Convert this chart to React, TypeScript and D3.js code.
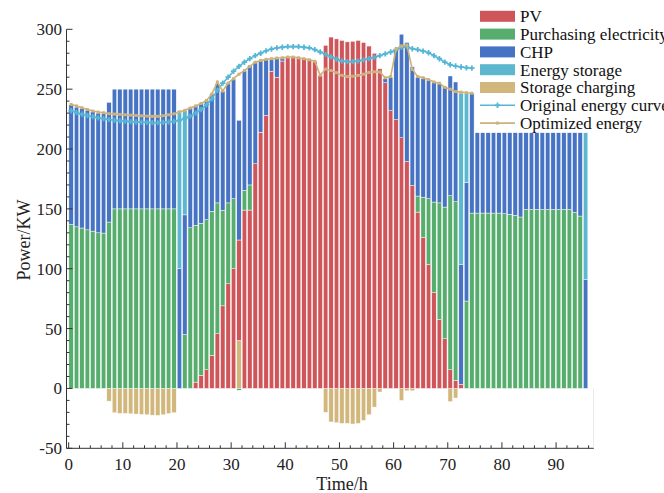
import React from "react";
import * as d3 from "d3";

const W = 664;
const H = 493;

// 96 time steps
const pv = [
  0,0,0,0,0,0,0,0,0,0,
  0,0,0,0,0,0,0,0,0,0,
  0,0,0,5.3,10.9,15.6,27.6,45.7,69,87.4,
  100,84,149,149,187.7,214,228,265,260,273.5,
  276.5,276.8,276.5,275.5,274.5,273.3,261.5,286.6,293.5,292,
  290.7,289.5,290,290.7,289,286,280,267,255.4,232,
  224.5,209.4,189.6,169.6,147.3,126,103.6,80,57.6,41.5,
  15.6,6.7,3.3,0,0,0,0,0,0,0,
  0,0,0,0,0,0,0,0,0,0,
  0,0,0,0,0,0,
];
const purchasing = [
  137,135,134,132.5,131.4,130,129.8,139,150,150,
  150,150,150,150,150,150,150,150,150,150,
  0,45,134.2,131,127,125.4,120.4,109.3,79.7,67.6,
  58.5,-1.5,16.5,21,0,0,0,0,0,0,
  0,0,0,0,0,0,0,0,0,0,
  0,0,0,0,0,0,0,0,0,0,
  0,0,0,0,13.4,33.8,55,75.7,97.4,110,
  145.4,149.3,0,73,146.5,146.5,146.5,146.5,146.5,146.5,
  146,145.5,144.6,143.2,149.5,149.5,149.5,149.5,149.5,149.5,
  149.5,149.5,149.5,147,144,0,
];
const chp = [
  100,100,100,100,100,100,100,100,100,100,
  100,100,100,100,100,100,100,100,100,100,
  100,100,100.5,100,100.4,99.6,98,99.5,99.7,100,
  100,100,100,100,85,60,46.5,10,15.5,2.5,
  0,0,0,0,0,0,0,0,0,0,
  0,0,0,0,0,0,0,0,3.5,28,
  59,86.5,99.4,99,99.3,99,99,100,99.5,100.5,
  100,100,100,99,100,67.1,67.1,67.1,67.1,67.1,
  67.6,68.1,69,70.4,64.1,64.1,64.1,64.1,64.1,64.1,
  64.1,64.1,64.1,66.6,69.6,90.8,
];
const storage = [
  0,0,0,0,0,0,0,0,0,0,
  0,0,0,0,0,0,0,0,0,0,
  132,87,0,0,0,0,0,0,0,0,
  0,0,0,0,0,0,0,0,0,0,
  0,0,0,0,0,0,0,0,0,0,
  0,0,0,0,0,0,0,0,0,0,
  0,0,0,0,0,0,0,0,0,0,
  0,0,143.4,74.7,0,0,0,0,0,0,
  0,0,0,0,0,0,0,0,0,0,
  0,0,0,0,0,122.8,
];
const charging = [
  0,0,0,0,0,0,0,-10.6,-20.3,-20.9,
  -20.9,-21.2,-21.4,-21.7,-22,-22.3,-22.5,-22,-21,-20.3,
  0,0,0,0,0,0,0,0,0,0,
  0,40,0,0,0,0,0,0,0,0,
  0,0,0,0,0,0,0,-20,-28,-28.6,
  -29.2,-29.2,-29.7,-29.2,-26.7,-22,-15.6,-3,0,0,
  0,-10,-2,-2,0,0,0,0,0,0,
  -11,-8,0,0,0,0,0,0,0,0,
  0,0,0,0,0,0,0,0,0,0,
  0,0,0,0,0,0,
];

// 75 points for the curves
const originalCurve = [
  232,230.5,229,228,227,226,225.3,224.6,224,223.6,
  223.2,222.9,222.6,222.4,222.2,222,222,222.2,222.6,223,
  224,225.5,227.5,230,233,237,242,249,255,260,
  265,269,272.5,275.5,278,280,282,283.5,284.5,285,
  285.5,285.5,285.5,285,284.5,283,281,279,277,275,
  273.5,273,273,273.5,274.5,275.5,276.5,278,279.5,281,
  283,285,285.5,283.8,283,281.8,280.4,278,275.4,272.6,
  270.4,269.3,268.5,267.9,267.6,
];
const optimizedCurve = [
  237.3,236,234.5,233,231.7,230.9,230.3,229.5,229.2,228.9,
  228.6,228.3,228,227.7,227.5,227.3,227.3,227.8,228.6,229.4,
  231,232.3,234.2,236,238,240.6,246,256,248.4,255,
  258.7,262.5,265.5,269,272.5,274,274.9,275.4,276,276.2,
  276.8,276.8,276.2,275.4,274.5,273.3,261.5,266.8,265.5,263.8,
  261.5,260.5,260.8,261.5,262.5,264,264.5,264.3,259.5,260.5,
  283.5,286,287,266.5,260.5,259.5,258,256,255,251.5,
  250,248,247.5,247,246.6,
];

const xTicks = [0, 10, 20, 30, 40, 50, 60, 70, 80, 90];
const yTicks = [-50, 0, 50, 100, 150, 200, 250, 300];

const seriesNames = ["PV", "Purchasing electricity", "CHP", "Energy storage", "Storage charging"];
const lineNames = ["Original energy curve", "Optimized energy"];

const COLORS: Record<string, string> = {
  pv: "#CE5559",
  grid: "#57AD6D",
  chp: "#4673C3",
  storage: "#5CB7CF",
  charge: "#D2B77D",
};
const CYAN_LINE = "#55B6D6";
const TAN_LINE = "#CDB27A";

const FONT = "'Liberation Serif', 'Times New Roman', serif";

export default function App() {
  const x = d3.scaleLinear().domain([-0.4, 97]).range([66.5, 594]);
  const y = d3.scaleLinear().domain([-50, 300]).range([448.3, 29.3]);

  const rows = pv.map((_, i) => ({
    i,
    charge: charging[i],
    pv: pv[i],
    grid: purchasing[i],
    chp: chp[i],
    storage: storage[i],
  }));
  const keys = ["charge", "pv", "grid", "chp", "storage"];
  const stacked = d3
    .stack<any>()
    .keys(keys)
    .offset(d3.stackOffsetDiverging)(rows);

  const barW = x(0.82) - x(0);
  const cx = (i: number) => x(i + 0.45);

  const lineGen = d3
    .line<number>()
    .x((_, i) => cx(i))
    .y((d) => y(d));

  const cross = d3.symbol().type(d3.symbolCross).size(16)();
  const square = d3.symbol().type(d3.symbolSquare).size(9)();

  const minorY = d3.range(-50, 301, 10);
  const minorX = d3.range(0, 97, 2);

  const legendX = 480;
  const legendY0 = 16.3;
  const legendStep = 17.8;
  const swatchW = 35;

  const legendItems: { label: string; kind: string; key?: string }[] = [
    { label: seriesNames[0], kind: "rect", key: "pv" },
    { label: seriesNames[1], kind: "rect", key: "grid" },
    { label: seriesNames[2], kind: "rect", key: "chp" },
    { label: seriesNames[3], kind: "rect", key: "storage" },
    { label: seriesNames[4], kind: "rect", key: "charge" },
    { label: lineNames[0], kind: "orig" },
    { label: lineNames[1], kind: "opt" },
  ];

  return (
    <svg
      width={W}
      height={H}
      style={{ position: "absolute", left: 0, top: 0, background: "#fff" }}
      fontFamily={FONT}
    >
      {/* bars */}
      {stacked.map((layer) => (
        <g key={layer.key} fill={COLORS[layer.key]}>
          {layer.map((seg, i) => {
            const y0 = y(seg[0]);
            const y1 = y(seg[1]);
            const h = Math.abs(y0 - y1);
            if (h < 0.01) return null;
            return (
              <rect
                key={i}
                x={x(i + 0.04)}
                y={Math.min(y0, y1)}
                width={barW}
                height={h}
                stroke="#ffffff"
                strokeWidth={0.45}
              />
            );
          })}
        </g>
      ))}

      {/* curves */}
      <path d={lineGen(originalCurve) || ""} fill="none" stroke={CYAN_LINE} strokeWidth={1.6} />
      {originalCurve.map((v, i) => (
        <path key={"o" + i} d={cross || ""} transform={`translate(${cx(i)},${y(v)})`} fill={CYAN_LINE} />
      ))}
      <path d={lineGen(optimizedCurve) || ""} fill="none" stroke={TAN_LINE} strokeWidth={1.6} />
      {optimizedCurve.map((v, i) => (
        <path key={"p" + i} d={square || ""} transform={`translate(${cx(i)},${y(v)})`} fill={TAN_LINE} />
      ))}

      {/* axes */}
      <line x1={66.5} x2={66.5} y1={y(300)} y2={y(-50)} stroke="#333" strokeWidth={1} />
      <line x1={66.5} x2={594} y1={y(-50)} y2={y(-50)} stroke="#333" strokeWidth={1} />
      <line x1={593.5} x2={593.5} y1={y(0)} y2={y(-50)} stroke="#e4e4e4" strokeWidth={0.8} />
      {minorY.map((t) => (
        <line key={"my" + t} x1={66.5} x2={66.5 + (t % 50 === 0 ? 6 : 3)} y1={y(t)} y2={y(t)} stroke="#333" strokeWidth={1} />
      ))}
      {minorX.map((t) => (
        <line key={"mx" + t} x1={x(t)} x2={x(t)} y1={y(-50)} y2={y(-50) - (t % 10 === 0 ? 6 : 3)} stroke="#333" strokeWidth={1} />
      ))}
      {yTicks.map((t) => (
        <text key={"yt" + t} x={62} y={y(t)} dy="0.35em" textAnchor="end" fontSize={17} fill="#222">
          {t}
        </text>
      ))}
      {xTicks.map((t) => (
        <text key={"xt" + t} x={x(t)} y={470} textAnchor="middle" fontSize={17} fill="#222">
          {t}
        </text>
      ))}
      <text x={342} y={490} textAnchor="middle" fontSize={18} fill="#222">
        Time/h
      </text>
      <text
        transform="translate(30,240) rotate(-90)"
        textAnchor="middle"
        fontSize={18}
        fill="#222"
      >
        Power/KW
      </text>

      {/* legend */}
      {legendItems.map((it, k) => {
        const cy = legendY0 + k * legendStep;
        return (
          <g key={"lg" + k}>
            {it.kind === "rect" && (
              <rect x={legendX} y={cy - 5.5} width={swatchW} height={11} fill={COLORS[it.key as string]} />
            )}
            {it.kind === "orig" && (
              <g>
                <line x1={legendX} x2={legendX + swatchW} y1={cy} y2={cy} stroke={CYAN_LINE} strokeWidth={1.6} />
                <path d={cross || ""} transform={`translate(${legendX + swatchW / 2},${cy})`} fill={CYAN_LINE} />
              </g>
            )}
            {it.kind === "opt" && (
              <g>
                <line x1={legendX} x2={legendX + swatchW} y1={cy} y2={cy} stroke={TAN_LINE} strokeWidth={1.6} />
                <path d={square || ""} transform={`translate(${legendX + swatchW / 2},${cy})`} fill={TAN_LINE} />
              </g>
            )}
            <text x={520} y={cy} dy="0.35em" fontSize={17} fill="#111">
              {it.label}
            </text>
          </g>
        );
      })}
    </svg>
  );
}
